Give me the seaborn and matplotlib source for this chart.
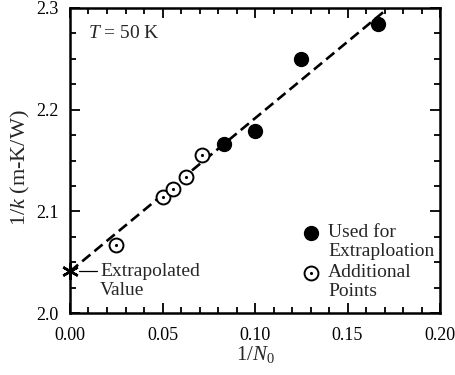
import numpy as np
import pandas as pd
import matplotlib
matplotlib.use("Agg")
import matplotlib.pyplot as plt
import seaborn as sns
from matplotlib.ticker import MultipleLocator, FormatStrFormatter

sns.set_style("ticks")
plt.rcParams['font.family'] = ['Liberation Serif', 'DejaVu Serif']
plt.rcParams['mathtext.fontset'] = 'custom'
plt.rcParams['mathtext.rm'] = 'Liberation Serif'
plt.rcParams['mathtext.it'] = 'Liberation Serif:italic'

# Data
used_x = [1/12, 1/10, 1/8, 1/6]
used_y = [2.166, 2.179, 2.250, 2.284]
add_x = [1/40, 1/20, 1/18, 1/16, 1/14]
add_y = [2.067, 2.114, 2.122, 2.134, 2.155]

used = pd.DataFrame({"x": used_x, "y": used_y})
add = pd.DataFrame({"x": add_x, "y": add_y})

slope, intercept = np.polyfit(used_x, used_y, 1)
fit_x = [0.0, 0.2]
fit = pd.DataFrame({"x": fit_x, "y": [intercept + slope * v for v in fit_x]})

fig = plt.figure(figsize=(4.56, 3.75), dpi=100)
ax = fig.add_axes([0.1535, 0.1653, 0.8115, 0.8134])

sns.lineplot(data=fit, x="x", y="y", ax=ax, color="black", lw=1.9,
             linestyle=(0, (4, 2)), zorder=2)
ax.plot([0.0], [intercept], marker=(6, 2, 0), ms=12, mew=1.8, color="black",
        zorder=4, clip_on=False)
ax.plot(used["x"], used["y"], "o", ms=10, color="black", zorder=3, ls="none")
ax.plot(add["x"], add["y"], "o", ms=10, mfc="white", mec="black", mew=1.4,
        zorder=3, ls="none")
ax.plot(add["x"], add["y"], ".", ms=2.5, color="black", zorder=4, ls="none")

ax.set_xlim(0, 0.2)
ax.set_ylim(2.0, 2.3)
ax.xaxis.set_major_locator(MultipleLocator(0.05))
ax.xaxis.set_minor_locator(MultipleLocator(0.01))
ax.yaxis.set_major_locator(MultipleLocator(0.1))
ax.yaxis.set_minor_locator(MultipleLocator(0.025))
ax.xaxis.set_major_formatter(FormatStrFormatter("%.2f"))
ax.yaxis.set_major_formatter(FormatStrFormatter("%.1f"))
ax.tick_params(which="both", direction="in", top=True, right=True,
               width=1.3, labelsize=13, colors="black")
ax.tick_params(axis="x", which="major", pad=10)
ax.tick_params(axis="y", which="major", pad=8)
ax.tick_params(which="major", length=7)
ax.tick_params(which="minor", length=4)
for s in ax.spines.values():
    s.set_linewidth(1.8)
    s.set_color("black")

ax.set_xlabel(r"1/$\it{N}$$_0$", fontsize=15, labelpad=0)
ax.set_ylabel(r"1/$\it{k}$ (m-K/W)", fontsize=16)
ax.yaxis.set_label_coords(-0.103, 0.475)

ax.text(0.0097, 2.275, r"$\it{T}$ = 50 K", fontsize=14, va="center", ha="left")

# Extrapolated annotation
ax.plot([0.0049, 0.0146], [intercept, intercept], color="black", lw=0.9)
ax.text(0.0162, intercept, "Extrapolated", fontsize=14, va="center", ha="left")
ax.text(0.0162, 2.0225, "Value", fontsize=14, va="center", ha="left")

# Manual legend
lx, tx = 0.1301, 0.1396
ax.plot([lx], [2.0788], "o", ms=10, color="black")
ax.plot([lx], [2.0394], "o", ms=10, mfc="white", mec="black", mew=1.4)
ax.plot([lx], [2.0394], ".", ms=2.5, color="black")
ax.text(tx, 2.0788, "Used for", fontsize=14, va="center", ha="left")
ax.text(tx, 2.0601, "Extraploation", fontsize=14, va="center", ha="left")
ax.text(tx, 2.0394, "Additional", fontsize=14, va="center", ha="left")
ax.text(tx, 2.0207, "Points", fontsize=14, va="center", ha="left")

fig.savefig("out.png", dpi=100)
